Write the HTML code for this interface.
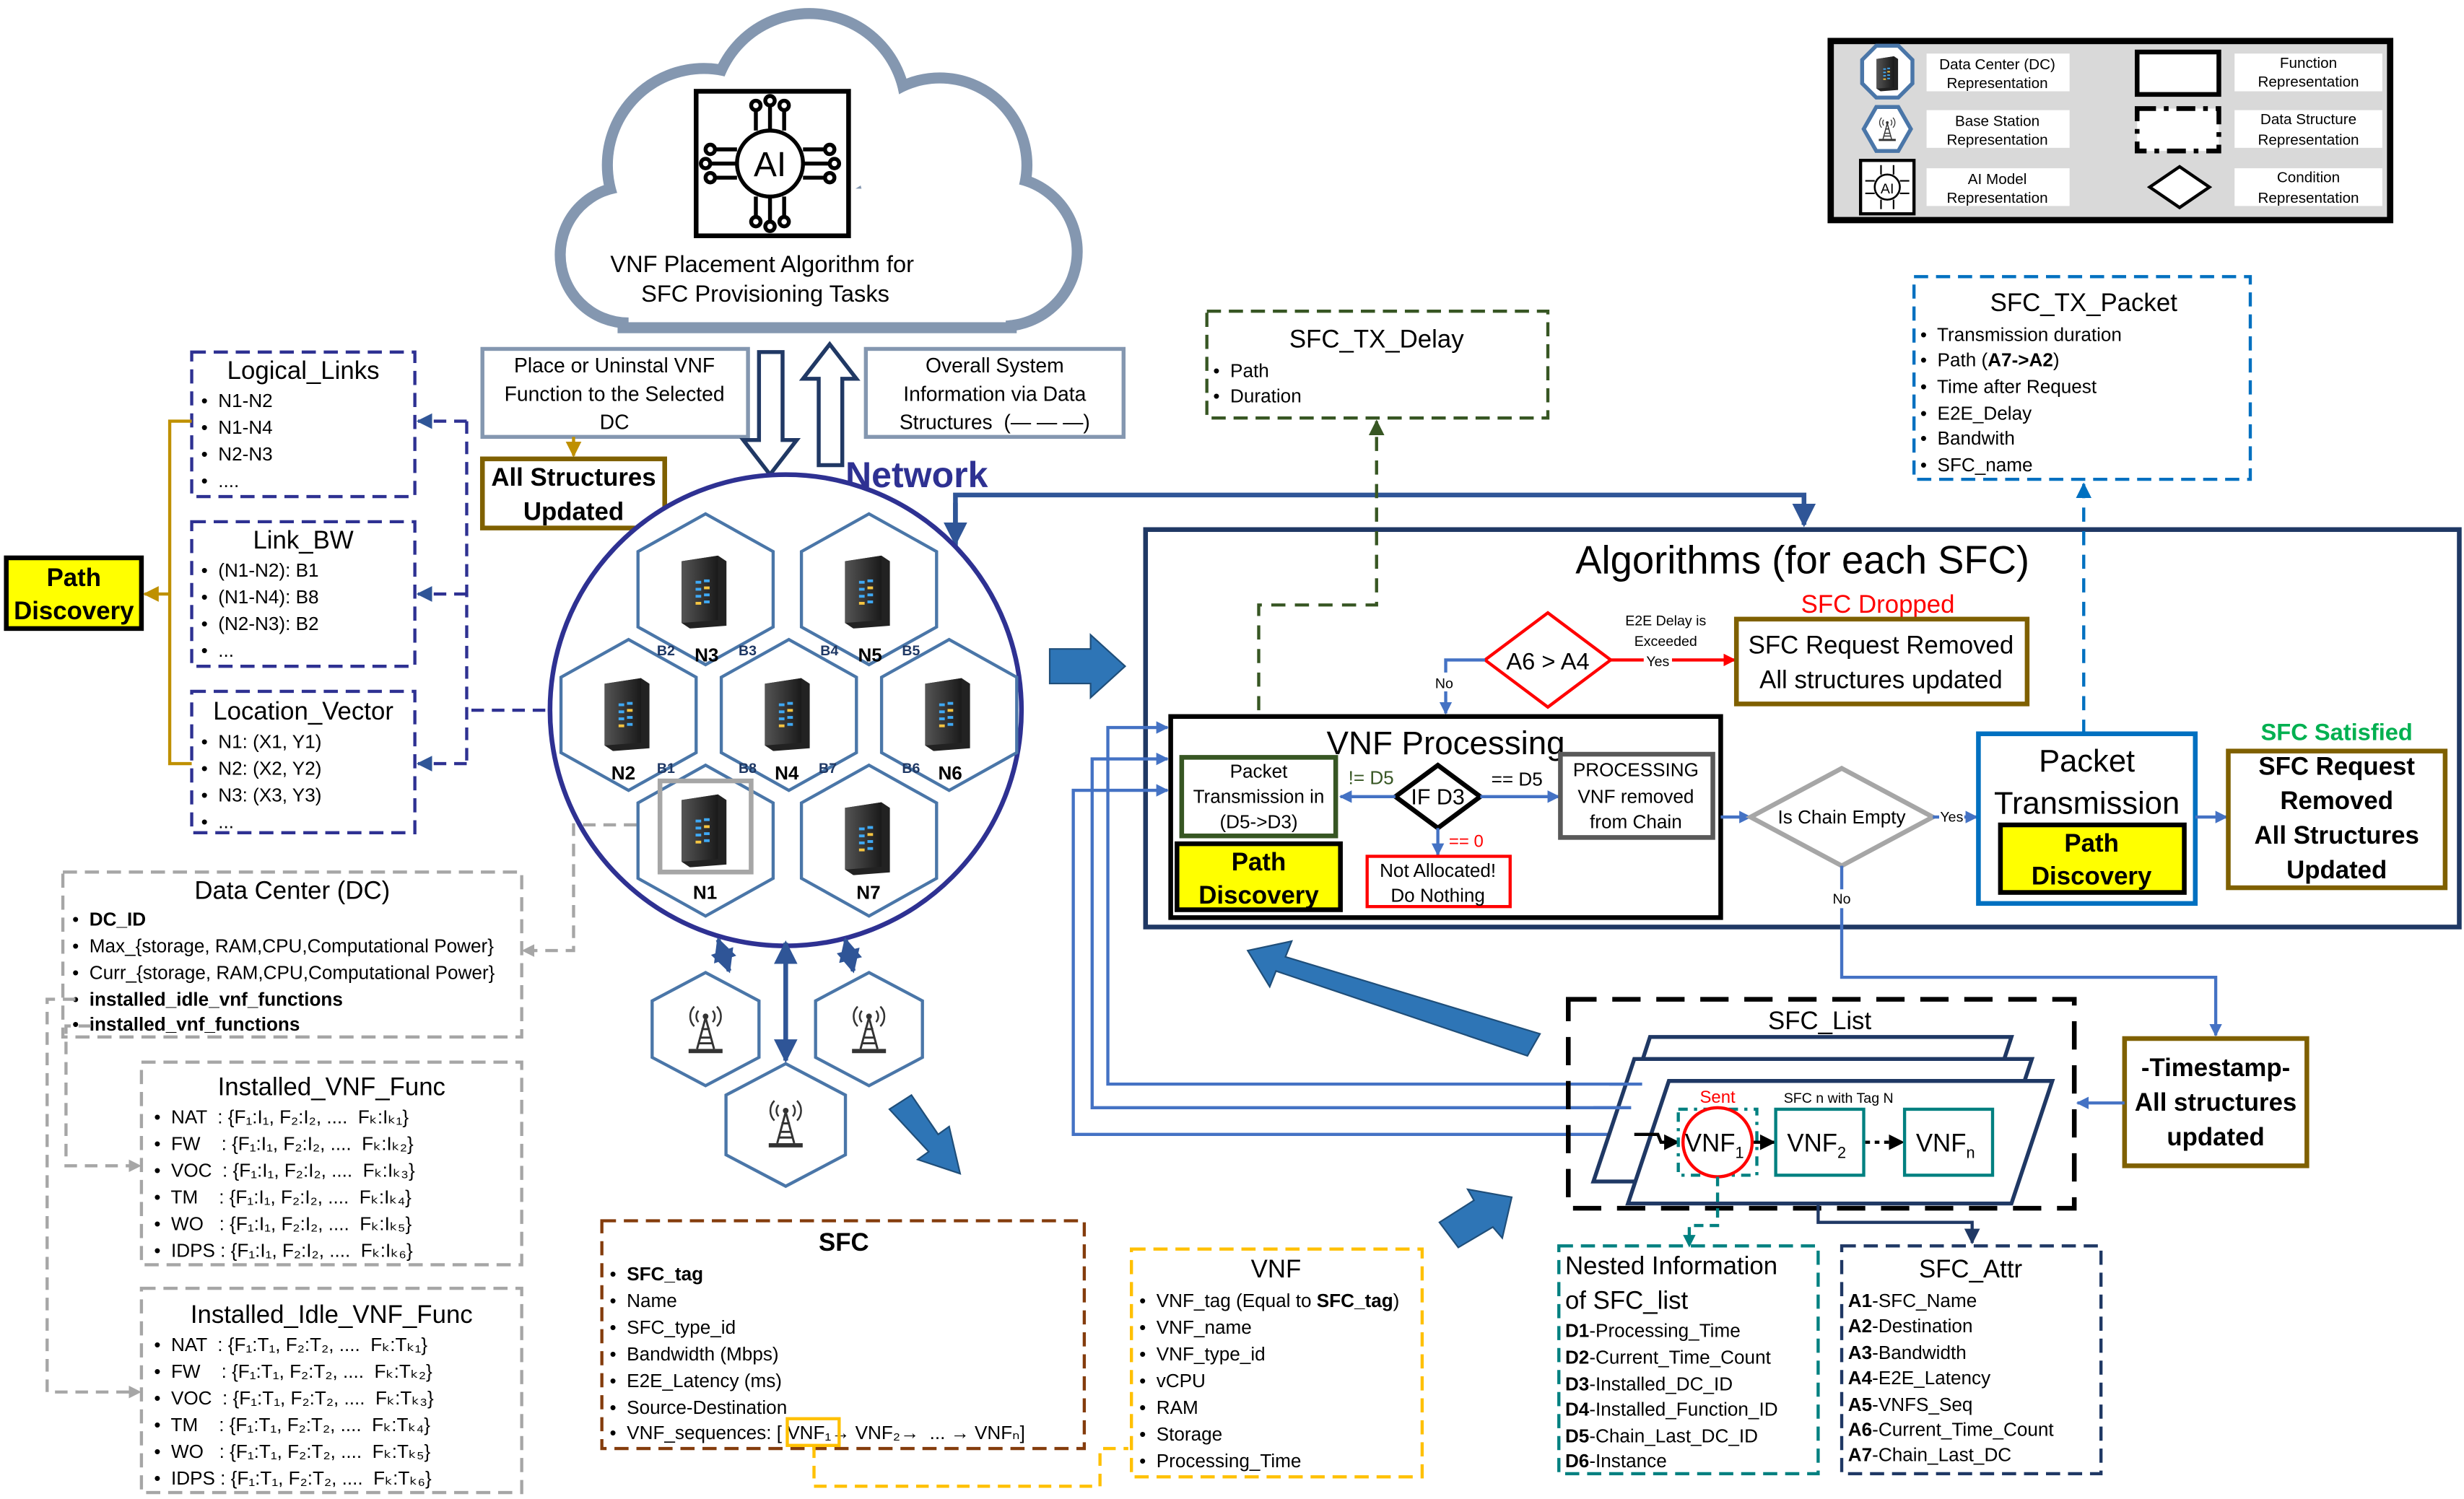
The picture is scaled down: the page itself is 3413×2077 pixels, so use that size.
<!DOCTYPE html>
<html><head><meta charset="utf-8">
<style>
html,body{margin:0;padding:0;background:#fff;}
svg{display:block;}
text{font-family:"Liberation Sans Narrow","Liberation Sans",sans-serif;fill:#000;white-space:pre;}
.b{font-weight:bold;}
</style></head>
<body>
<svg width="3413" height="2077" viewBox="0 0 1568 954" xmlns="http://www.w3.org/2000/svg" xml:space="preserve">
<defs>
<marker id="ab" viewBox="0 0 10 10" refX="9" refY="5" markerWidth="5" markerHeight="5" orient="auto-start-reverse"><path d="M0,0L10,5L0,10z" fill="#2f5597"/></marker>
<marker id="ab2" viewBox="0 0 10 10" refX="9" refY="5" markerWidth="4" markerHeight="4" orient="auto-start-reverse"><path d="M0,0L10,5L0,10z" fill="#4472c4"/></marker>
<marker id="ak" viewBox="0 0 10 10" refX="9" refY="5" markerWidth="5" markerHeight="5" orient="auto"><path d="M0,0L10,5L0,10z" fill="#000"/></marker>
<marker id="ar" viewBox="0 0 10 10" refX="9" refY="5" markerWidth="4" markerHeight="4" orient="auto"><path d="M0,0L10,5L0,10z" fill="#f00"/></marker>
<marker id="agd" viewBox="0 0 10 10" refX="9" refY="5" markerWidth="5" markerHeight="5" orient="auto"><path d="M0,0L10,5L0,10z" fill="#bf9000"/></marker>
<marker id="agr" viewBox="0 0 10 10" refX="9" refY="5" markerWidth="5" markerHeight="5" orient="auto"><path d="M0,0L10,5L0,10z" fill="#375623"/></marker>
<marker id="abl" viewBox="0 0 10 10" refX="9" refY="5" markerWidth="5" markerHeight="5" orient="auto"><path d="M0,0L10,5L0,10z" fill="#0070c0"/></marker>
<marker id="an" viewBox="0 0 10 10" refX="9" refY="5" markerWidth="5" markerHeight="5" orient="auto"><path d="M0,0L10,5L0,10z" fill="#1f3864"/></marker>
<linearGradient id="sg" x1="0" x2="1"><stop offset="0" stop-color="#555"/><stop offset="1" stop-color="#1a1a1a"/></linearGradient>
<symbol id="srv" viewBox="0 0 40 56">
<polygon points="4,8 30,4 36,8 36,54 10,56 4,52" fill="#222"/>
<polygon points="4,8 30,4 30,50 4,52" fill="url(#sg)"/>
<rect x="14" y="22" width="4" height="2" fill="#3fa9f5"/><rect x="20" y="21" width="4" height="2" fill="#3fa9f5"/>
<rect x="14" y="27" width="4" height="2" fill="#3fa9f5"/><rect x="20" y="26" width="4" height="2" fill="#f5c542"/>
<rect x="14" y="32" width="4" height="2" fill="#3fa9f5"/><rect x="20" y="31" width="4" height="2" fill="#3fa9f5"/>
<rect x="14" y="37" width="4" height="2" fill="#f5c542"/><rect x="20" y="36" width="4" height="2" fill="#3fa9f5"/>
</symbol>
<symbol id="bs" viewBox="0 0 40 40">
<path d="M20,12 L14,34 M20,12 L26,34 M16,26 L24,26 M15,30 L25,30 M17,20 L23,20" stroke="#333" stroke-width="1.5" fill="none"/>
<rect x="8" y="34" width="24" height="3" fill="#333"/>
<circle cx="20" cy="11" r="2" fill="#333"/>
<path d="M15,7 A6,6 0 0,0 15,15 M25,7 A6,6 0 0,1 25,15 M12,4 A10,10 0 0,0 12,18 M28,4 A10,10 0 0,1 28,18" stroke="#333" stroke-width="1.3" fill="none"/>
</symbol>
</defs>

<!-- CLOUD -->
<g stroke="#8497b0" stroke-width="14" fill="#8497b0">
<circle cx="400" cy="162" r="40"/><circle cx="448" cy="105" r="58"/><circle cx="515" cy="70" r="58"/>
<circle cx="598" cy="105" r="52"/><circle cx="638" cy="160" r="44"/><rect x="400" y="120" width="240" height="85"/>
</g>
<g fill="#fff">
<circle cx="400" cy="162" r="40"/><circle cx="448" cy="105" r="58"/><circle cx="515" cy="70" r="58"/>
<circle cx="598" cy="105" r="52"/><circle cx="638" cy="160" r="44"/><rect x="400" y="120" width="240" height="85"/>
</g>
<rect x="443" y="58" width="97" height="92" fill="#fff" stroke="#000" stroke-width="3"/>
<g stroke="#000" stroke-width="2.5" fill="none">
<circle cx="490" cy="104" r="21"/>
<path d="M469,95 H455 M469,104 H452 M469,113 H455 M511,95 H525 M511,104 H528 M511,113 H525 M481,83 V70 M490,83 V67 M499,83 V70 M481,125 V138 M490,125 V141 M499,125 V138"/>
<circle cx="452" cy="95" r="3"/><circle cx="449" cy="104" r="3"/><circle cx="452" cy="113" r="3"/>
<circle cx="528" cy="95" r="3"/><circle cx="531" cy="104" r="3"/><circle cx="528" cy="113" r="3"/>
<circle cx="481" cy="67" r="3"/><circle cx="490" cy="64" r="3"/><circle cx="499" cy="67" r="3"/>
<circle cx="481" cy="141" r="3"/><circle cx="490" cy="144" r="3"/><circle cx="499" cy="141" r="3"/>
</g>
<text x="490" y="112" font-size="22" text-anchor="middle">AI</text>
<text x="485" y="173" font-size="15" text-anchor="middle">VNF Placement Algorithm for</text>
<text x="487" y="192" font-size="15" text-anchor="middle">SFC Provisioning Tasks</text>

<!-- LEGEND -->
<rect x="1165" y="26" width="356" height="114" fill="#d9d9d9" stroke="#000" stroke-width="4"/>
<polygon points="1194,29 1208,29 1217,38 1217,53 1208,62 1194,62 1185,53 1185,38" fill="#fff" stroke="#4a76a8" stroke-width="2.5"/>
<use href="#srv" x="1192" y="34" width="18" height="24"/>
<polygon points="1194,68 1208,68 1216,82 1208,96 1194,96 1186,82" fill="#fff" stroke="#4a76a8" stroke-width="2.5"/>
<use href="#bs" x="1192" y="72" width="18" height="20"/>
<rect x="1184" y="102" width="34" height="34" fill="#fff" stroke="#000" stroke-width="2"/>
<circle cx="1201" cy="119" r="8" fill="none" stroke="#000" stroke-width="1.2"/>
<text x="1201" y="123" font-size="9" text-anchor="middle">AI</text>
<g stroke="#000" stroke-width="1" fill="none"><path d="M1193,115 H1187 M1193,123 H1187 M1209,115 H1215 M1209,123 H1215 M1197,111 V105 M1205,111 V105 M1197,127 V133 M1205,127 V133"/></g>
<rect x="1226" y="34" width="91" height="24" fill="#fff"/><rect x="1226" y="70" width="91" height="24" fill="#fff"/><rect x="1226" y="107" width="91" height="24" fill="#fff"/>
<rect x="1422" y="34" width="94" height="24" fill="#fff"/><rect x="1422" y="70" width="94" height="24" fill="#fff"/><rect x="1422" y="107" width="94" height="24" fill="#fff"/>
<g font-size="9.5" text-anchor="middle">
<text x="1271" y="44">Data Center (DC)</text><text x="1271" y="56">Representation</text>
<text x="1271" y="80">Base Station</text><text x="1271" y="92">Representation</text>
<text x="1271" y="117">AI Model</text><text x="1271" y="129">Representation</text>
<text x="1469" y="43">Function</text><text x="1469" y="55">Representation</text>
<text x="1469" y="79">Data Structure</text><text x="1469" y="92">Representation</text>
<text x="1469" y="116">Condition</text><text x="1469" y="129">Representation</text>
</g>
<rect x="1360" y="33" width="52" height="27" fill="#fff" stroke="#000" stroke-width="3"/>
<rect x="1360" y="69" width="52" height="27" fill="#fff" stroke="#000" stroke-width="3" stroke-dasharray="12,5,3,5"/>
<polygon points="1387,106 1406,119 1387,132 1368,119" fill="#fff" stroke="#000" stroke-width="2"/>

<!-- top boxes -->
<rect x="307" y="222" width="169" height="56" fill="#fff" stroke="#8497b0" stroke-width="2.5"/>
<g font-size="13" text-anchor="middle"><text x="391" y="237">Place or Uninstal VNF</text><text x="391" y="255">Function to the Selected</text><text x="391" y="273">DC</text></g>
<rect x="551" y="222" width="164" height="56" fill="#fff" stroke="#8497b0" stroke-width="2.5"/>
<g font-size="13" text-anchor="middle"><text x="633" y="237">Overall System</text><text x="633" y="255">Information via Data</text><text x="633" y="273">Structures  (— — —)</text></g>
<line x1="365" y1="278" x2="365" y2="290" stroke="#bf9000" stroke-width="2" marker-end="url(#agd)"/>
<rect x="307" y="292" width="116" height="44" fill="#fff" stroke="#7f6000" stroke-width="3"/>
<g font-size="16" text-anchor="middle"><text x="365" y="309" class="b">All Structures</text><text x="365" y="331" class="b">Updated</text></g>
<polygon points="483,224 498,224 498,280 507,280 490,302 473,280 483,280" fill="#fff" stroke="#203864" stroke-width="2.5"/>
<polygon points="521,296 536,296 536,241 545,241 528,219 511,241 521,241" fill="#fff" stroke="#203864" stroke-width="2.5"/>
<text x="538" y="310" font-size="23" class="b" style="fill:#2e3192">Network</text>

<path d="M608,348 V315 H1148 V334" fill="none" stroke="#2f5597" stroke-width="3" marker-end="url(#ab)"/>
<line x1="608" y1="320" x2="608" y2="346" stroke="#2f5597" stroke-width="3" marker-end="url(#ab)"/>

<!-- NETWORK CIRCLE -->
<circle cx="500" cy="452" r="150" fill="#fff" stroke="#2e3192" stroke-width="3"/>
<g fill="#fff" stroke="#4a76a8" stroke-width="2">
<polygon points="449,327 492,351 492,399 449,423 406,399 406,351"/>
<polygon points="553,327 596,351 596,399 553,423 510,399 510,351"/>
<polygon points="400,407 443,431 443,479 400,503 357,479 357,431"/>
<polygon points="502,407 545,431 545,479 502,503 459,479 459,431"/>
<polygon points="604,407 647,431 647,479 604,503 561,479 561,431"/>
<polygon points="449,487 492,511 492,559 449,583 406,559 406,511"/>
<polygon points="553,487 596,511 596,559 553,583 510,559 510,511"/>
</g>
<rect x="420" y="497" width="58" height="58" fill="none" stroke="#a6a6a6" stroke-width="3"/>
<use href="#srv" x="430" y="350" width="36" height="50"/>
<use href="#srv" x="534" y="350" width="36" height="50"/>
<use href="#srv" x="381" y="428" width="36" height="50"/>
<use href="#srv" x="483" y="428" width="36" height="50"/>
<use href="#srv" x="585" y="428" width="36" height="50"/>
<use href="#srv" x="430" y="502" width="36" height="50"/>
<use href="#srv" x="534" y="507" width="36" height="50"/>
<g font-size="12">
<text x="442" y="421" class="b">N3</text><text x="546" y="421" class="b">N5</text>
<text x="389" y="496" class="b">N2</text><text x="493" y="496" class="b">N4</text><text x="597" y="496" class="b">N6</text>
<text x="441" y="572" class="b">N1</text><text x="545" y="572" class="b">N7</text>
</g>
<g font-size="9">
<text x="418" y="417" class="b" style="fill:#1f3864">B2</text><text x="470" y="417" class="b" style="fill:#1f3864">B3</text>
<text x="522" y="417" class="b" style="fill:#1f3864">B4</text><text x="574" y="417" class="b" style="fill:#1f3864">B5</text>
<text x="418" y="492" class="b" style="fill:#1f3864">B1</text><text x="470" y="492" class="b" style="fill:#1f3864">B8</text>
<text x="521" y="492" class="b" style="fill:#1f3864">B7</text><text x="574" y="492" class="b" style="fill:#1f3864">B6</text>
</g>
<g fill="#fff" stroke="#4a76a8" stroke-width="2">
<polygon points="449,619 483,637 483,673 449,691 415,673 415,637"/>
<polygon points="553,619 587,637 587,673 553,691 519,673 519,637"/>
<polygon points="500,677 538,697 538,735 500,755 462,735 462,697"/>
</g>
<use href="#bs" x="431" y="637" width="36" height="36"/>
<use href="#bs" x="535" y="637" width="36" height="36"/>
<use href="#bs" x="482" y="696" width="36" height="38"/>
<g stroke="#2f5597" stroke-width="3" fill="none">
<line x1="457" y1="598" x2="464" y2="618" marker-start="url(#ab)" marker-end="url(#ab)"/>
<line x1="500" y1="600" x2="500" y2="675" marker-start="url(#ab)" marker-end="url(#ab)"/>
<line x1="538" y1="598" x2="543" y2="618" marker-start="url(#ab)" marker-end="url(#ab)"/>
</g>

<!-- LEFT LISTS -->
<g fill="#fff" stroke="#2e3192" stroke-width="2" stroke-dasharray="9,5">
<rect x="122" y="224" width="142" height="92"/>
<rect x="122" y="332" width="142" height="92"/>
<rect x="122" y="440" width="142" height="90"/>
</g>
<g font-size="16" text-anchor="middle">
<text x="193" y="241">Logical_Links</text><text x="193" y="349">Link_BW</text><text x="193" y="458">Location_Vector</text>
</g>
<g font-size="12">
<text x="128" y="259">•  N1-N2</text><text x="128" y="276">•  N1-N4</text><text x="128" y="293">•  N2-N3</text><text x="128" y="310">•  ....</text>
<text x="128" y="367">•  (N1-N2): B1</text><text x="128" y="384">•  (N1-N4): B8</text><text x="128" y="401">•  (N2-N3): B2</text><text x="128" y="418">•  ...</text>
<text x="128" y="476">•  N1: (X1, Y1)</text><text x="128" y="493">•  N2: (X2, Y2)</text><text x="128" y="510">•  N3: (X3, Y3)</text><text x="128" y="527">•  ...</text>
</g>
<path d="M122,268 H108 V486 H122" fill="none" stroke="#bf9000" stroke-width="2"/>
<line x1="108" y1="378" x2="92" y2="378" stroke="#bf9000" stroke-width="2" marker-end="url(#agd)"/>
<rect x="4" y="355" width="86" height="45" fill="#ffff00" stroke="#000" stroke-width="3"/>
<text x="47" y="373" font-size="16" text-anchor="middle" class="b">Path</text>
<text x="47" y="394" font-size="16" text-anchor="middle" class="b">Discovery</text>
<g stroke="#2e3192" stroke-width="2" stroke-dasharray="8,5" fill="none">
<path d="M297,268 V486"/><path d="M300,452 H348"/>
<line x1="297" y1="268" x2="266" y2="268" marker-end="url(#ab)"/>
<line x1="297" y1="378" x2="266" y2="378" marker-end="url(#ab)"/>
<line x1="297" y1="486" x2="266" y2="486" marker-end="url(#ab)"/>
</g>

<!-- Data Center -->
<rect x="40" y="555" width="292" height="105" fill="#fff" stroke="#a6a6a6" stroke-width="2" stroke-dasharray="9,5"/>
<text x="186" y="572" font-size="16" text-anchor="middle">Data Center (DC)</text>
<g font-size="12">
<text x="46" y="589">•  <tspan class="b">DC_ID</tspan></text>
<text x="46" y="606">•  Max_{storage, RAM,CPU,Computational Power}</text>
<text x="46" y="623">•  Curr_{storage, RAM,CPU,Computational Power}</text>
<text x="46" y="640">•  <tspan class="b">installed_idle_vnf_functions</tspan></text>
<text x="46" y="656">•  <tspan class="b">installed_vnf_functions</tspan></text>
</g>
<g stroke="#a6a6a6" stroke-width="2" stroke-dasharray="8,5" fill="none">
<path d="M405,525 H365 V605 H336"/>
<path d="M48,636 H30 V886 H88"/>
<path d="M58,653 H42 V742 H88"/>
</g>
<polygon points="332,605 340,601 340,609" fill="#a6a6a6"/>
<polygon points="90,742 82,738 82,746" fill="#a6a6a6"/>
<polygon points="90,886 82,882 82,890" fill="#a6a6a6"/>

<rect x="90" y="676" width="242" height="129" fill="#fff" stroke="#a6a6a6" stroke-width="2" stroke-dasharray="9,5"/>
<text x="211" y="697" font-size="16" text-anchor="middle">Installed_VNF_Func</text>
<g font-size="12">
<text x="98" y="715">•  NAT  : {F₁:I₁, F₂:I₂, ....  Fₖ:Iₖ₁}</text>
<text x="98" y="732">•  FW    : {F₁:I₁, F₂:I₂, ....  Fₖ:Iₖ₂}</text>
<text x="98" y="749">•  VOC  : {F₁:I₁, F₂:I₂, ....  Fₖ:Iₖ₃}</text>
<text x="98" y="766">•  TM    : {F₁:I₁, F₂:I₂, ....  Fₖ:Iₖ₄}</text>
<text x="98" y="783">•  WO   : {F₁:I₁, F₂:I₂, ....  Fₖ:Iₖ₅}</text>
<text x="98" y="800">•  IDPS : {F₁:I₁, F₂:I₂, ....  Fₖ:Iₖ₆}</text>
</g>
<rect x="90" y="820" width="242" height="130" fill="#fff" stroke="#a6a6a6" stroke-width="2" stroke-dasharray="9,5"/>
<text x="211" y="842" font-size="16" text-anchor="middle">Installed_Idle_VNF_Func</text>
<g font-size="12">
<text x="98" y="860">•  NAT  : {F₁:T₁, F₂:T₂, ....  Fₖ:Tₖ₁}</text>
<text x="98" y="877">•  FW    : {F₁:T₁, F₂:T₂, ....  Fₖ:Tₖ₂}</text>
<text x="98" y="894">•  VOC  : {F₁:T₁, F₂:T₂, ....  Fₖ:Tₖ₃}</text>
<text x="98" y="911">•  TM    : {F₁:T₁, F₂:T₂, ....  Fₖ:Tₖ₄}</text>
<text x="98" y="928">•  WO   : {F₁:T₁, F₂:T₂, ....  Fₖ:Tₖ₅}</text>
<text x="98" y="945">•  IDPS : {F₁:T₁, F₂:T₂, ....  Fₖ:Tₖ₆}</text>
</g>

<!-- SFC & VNF -->
<rect x="383" y="777" width="307" height="145" fill="#fff" stroke="#843c0c" stroke-width="2" stroke-dasharray="9,5"/>
<text x="537" y="796" font-size="16" text-anchor="middle" class="b">SFC</text>
<g font-size="12">
<text x="388" y="815">•  <tspan class="b">SFC_tag</tspan></text>
<text x="388" y="832">•  Name</text>
<text x="388" y="849">•  SFC_type_id</text>
<text x="388" y="866">•  Bandwidth (Mbps)</text>
<text x="388" y="883">•  E2E_Latency (ms)</text>
<text x="388" y="900">•  Source-Destination</text>
<text x="388" y="916">•  VNF_sequences: [ VNF₁→ VNF₂→  ... → VNFₙ]</text>
</g>
<rect x="501" y="903" width="33" height="17" fill="none" stroke="#ffc000" stroke-width="2"/>
<path d="M518,920 V946 H700 V922 H718" fill="none" stroke="#ffc000" stroke-width="2" stroke-dasharray="8,5"/>
<rect x="720" y="795" width="185" height="145" fill="#fff" stroke="#ffc000" stroke-width="2" stroke-dasharray="9,5"/>
<text x="812" y="813" font-size="16" text-anchor="middle">VNF</text>
<g font-size="12">
<text x="725" y="832">•  VNF_tag (Equal to <tspan class="b">SFC_tag</tspan>)</text>
<text x="725" y="849">•  VNF_name</text>
<text x="725" y="866">•  VNF_type_id</text>
<text x="725" y="883">•  vCPU</text>
<text x="725" y="900">•  RAM</text>
<text x="725" y="917">•  Storage</text>
<text x="725" y="934">•  Processing_Time</text>
</g>

<rect x="992" y="793" width="165" height="145" fill="#fff" stroke="#008080" stroke-width="2" stroke-dasharray="9,5"/>
<text x="996" y="811" font-size="16">Nested Information</text>
<text x="996" y="833" font-size="16">of SFC_list</text>
<g font-size="12">
<text x="996" y="851"><tspan class="b">D1</tspan>-Processing_Time</text>
<text x="996" y="868"><tspan class="b">D2</tspan>-Current_Time_Count</text>
<text x="996" y="885"><tspan class="b">D3</tspan>-Installed_DC_ID</text>
<text x="996" y="901"><tspan class="b">D4</tspan>-Installed_Function_ID</text>
<text x="996" y="918"><tspan class="b">D5</tspan>-Chain_Last_DC_ID</text>
<text x="996" y="934"><tspan class="b">D6</tspan>-Instance</text>
</g>
<rect x="1172" y="793" width="165" height="145" fill="#fff" stroke="#1f3864" stroke-width="2" stroke-dasharray="9,5"/>
<text x="1254" y="813" font-size="16" text-anchor="middle">SFC_Attr</text>
<g font-size="12">
<text x="1176" y="832"><tspan class="b">A1</tspan>-SFC_Name</text>
<text x="1176" y="848"><tspan class="b">A2</tspan>-Destination</text>
<text x="1176" y="865"><tspan class="b">A3</tspan>-Bandwidth</text>
<text x="1176" y="881"><tspan class="b">A4</tspan>-E2E_Latency</text>
<text x="1176" y="898"><tspan class="b">A5</tspan>-VNFS_Seq</text>
<text x="1176" y="914"><tspan class="b">A6</tspan>-Current_Time_Count</text>
<text x="1176" y="930"><tspan class="b">A7</tspan>-Chain_Last_DC</text>
</g>

<!-- SFC_TX -->
<rect x="768" y="198" width="217" height="68" fill="#fff" stroke="#375623" stroke-width="2" stroke-dasharray="9,5"/>
<text x="876" y="221" font-size="16" text-anchor="middle">SFC_TX_Delay</text>
<g font-size="12"><text x="772" y="240">•  Path</text><text x="772" y="256">•  Duration</text></g>
<rect x="1218" y="176" width="214" height="129" fill="#fff" stroke="#0070c0" stroke-width="2" stroke-dasharray="9,5"/>
<text x="1326" y="198" font-size="16" text-anchor="middle">SFC_TX_Packet</text>
<g font-size="12">
<text x="1222" y="217">•  Transmission duration</text>
<text x="1222" y="233">•  Path (<tspan class="b">A7-&gt;A2</tspan>)</text>
<text x="1222" y="250">•  Time after Request</text>
<text x="1222" y="267">•  E2E_Delay</text>
<text x="1222" y="283">•  Bandwith</text>
<text x="1222" y="300">•  SFC_name</text>
</g>

<!-- ALGORITHMS -->
<rect x="729" y="337" width="836" height="253" fill="#fff" stroke="#1f3864" stroke-width="3"/>
<text x="1147" y="365" font-size="25" text-anchor="middle">Algorithms (for each SFC)</text>
<path d="M801,482 V385 H876 V268" fill="none" stroke="#375623" stroke-width="2" stroke-dasharray="9,6" marker-end="url(#agr)"/>
<path d="M1326,467 V308" fill="none" stroke="#0070c0" stroke-width="2" stroke-dasharray="9,6" marker-end="url(#abl)"/>
<polygon points="985,390 1025,420 985,450 945,420" fill="#fff" stroke="#f00" stroke-width="2"/>
<text x="985" y="426" font-size="15" text-anchor="middle">A6 &gt; A4</text>
<path d="M945,420 H920 V454" fill="none" stroke="#4472c4" stroke-width="2" marker-end="url(#ab2)"/>
<rect x="912" y="428" width="16" height="12" fill="#fff"/>
<text x="919" y="438" font-size="9" text-anchor="middle">No</text>
<line x1="1025" y1="420" x2="1104" y2="420" stroke="#f00" stroke-width="2" marker-end="url(#ar)"/>
<text x="1060" y="398" font-size="9" text-anchor="middle">E2E Delay is</text>
<text x="1060" y="411" font-size="9" text-anchor="middle">Exceeded</text>
<rect x="1046" y="416" width="18" height="9" fill="#fff"/>
<text x="1055" y="424" font-size="9" text-anchor="middle">Yes</text>
<text x="1195" y="390" font-size="16" text-anchor="middle" style="fill:#f00">SFC Dropped</text>
<rect x="1105" y="394" width="185" height="54" fill="#fff" stroke="#7f6000" stroke-width="3"/>
<text x="1197" y="416" font-size="16" text-anchor="middle">SFC Request Removed</text>
<text x="1197" y="438" font-size="16" text-anchor="middle">All structures updated</text>

<rect x="745" y="456" width="350" height="128" fill="#fff" stroke="#000" stroke-width="3"/>
<text x="920" y="480" font-size="21" text-anchor="middle">VNF Processing</text>
<rect x="752" y="482" width="98" height="50" fill="#fff" stroke="#375623" stroke-width="3"/>
<g font-size="12" text-anchor="middle"><text x="801" y="495">Packet</text><text x="801" y="511">Transmission in</text><text x="801" y="527">(D5-&gt;D3)</text></g>
<rect x="749" y="537" width="104" height="42" fill="#ffff00" stroke="#000" stroke-width="3"/>
<text x="801" y="554" font-size="16" text-anchor="middle" class="b">Path</text>
<text x="801" y="575" font-size="16" text-anchor="middle" class="b">Discovery</text>
<polygon points="915,487 942,507 915,527 888,507" fill="#fff" stroke="#000" stroke-width="3"/>
<text x="915" y="512" font-size="14" text-anchor="middle">IF D3</text>
<line x1="888" y1="507" x2="853" y2="507" stroke="#4472c4" stroke-width="2" marker-end="url(#ab2)"/>
<line x1="942" y1="507" x2="992" y2="507" stroke="#4472c4" stroke-width="2" marker-end="url(#ab2)"/>
<line x1="915" y1="527" x2="915" y2="544" stroke="#4472c4" stroke-width="2" marker-end="url(#ab2)"/>
<text x="858" y="499" font-size="12" style="fill:#375623">!= D5</text>
<text x="949" y="500" font-size="12">== D5</text>
<text x="922" y="539" font-size="11" style="fill:#f00">== 0</text>
<rect x="993" y="480" width="97" height="53" fill="#fff" stroke="#595959" stroke-width="3"/>
<g font-size="12" text-anchor="middle"><text x="1041" y="494">PROCESSING</text><text x="1041" y="511">VNF removed</text><text x="1041" y="527">from Chain</text></g>
<rect x="870" y="545" width="91" height="32" fill="#fff" stroke="#f00" stroke-width="2"/>
<text x="915" y="558" font-size="12" text-anchor="middle">Not Allocated!</text>
<text x="915" y="574" font-size="12" text-anchor="middle">Do Nothing</text>
<line x1="1095" y1="520" x2="1114" y2="520" stroke="#4472c4" stroke-width="2" marker-end="url(#ab2)"/>
<polygon points="1172,489 1230,520 1172,551 1114,520" fill="#fff" stroke="#a6a6a6" stroke-width="3"/>
<text x="1172" y="524" font-size="12" text-anchor="middle">Is Chain Empty</text>
<line x1="1230" y1="520" x2="1258" y2="520" stroke="#4472c4" stroke-width="2" marker-end="url(#ab2)"/>
<rect x="1234" y="515" width="16" height="10" fill="#fff"/>
<text x="1242" y="523" font-size="9" text-anchor="middle">Yes</text>
<path d="M1172,551 V622 H1410 V659" fill="none" stroke="#4472c4" stroke-width="2" marker-end="url(#ab2)"/>
<rect x="1164" y="566" width="16" height="12" fill="#fff"/>
<text x="1172" y="575" font-size="9" text-anchor="middle">No</text>
<rect x="1259" y="467" width="138" height="108" fill="#fff" stroke="#0070c0" stroke-width="3"/>
<text x="1328" y="491" font-size="20" text-anchor="middle">Packet</text>
<text x="1328" y="518" font-size="20" text-anchor="middle">Transmission</text>
<rect x="1273" y="525" width="117" height="43" fill="#ffff00" stroke="#000" stroke-width="3"/>
<text x="1331" y="542" font-size="16" text-anchor="middle" class="b">Path</text>
<text x="1331" y="563" font-size="16" text-anchor="middle" class="b">Discovery</text>
<line x1="1397" y1="520" x2="1417" y2="520" stroke="#4472c4" stroke-width="2" marker-end="url(#ab2)"/>
<text x="1487" y="471" font-size="15" text-anchor="middle" class="b" style="fill:#00b050">SFC Satisfied</text>
<rect x="1418" y="478" width="138" height="87" fill="#fff" stroke="#7f6000" stroke-width="3"/>
<g font-size="16" text-anchor="middle"><text x="1487" y="493" class="b">SFC Request</text><text x="1487" y="515" class="b">Removed</text><text x="1487" y="537" class="b">All Structures</text><text x="1487" y="559" class="b">Updated</text></g>

<g stroke="#4472c4" stroke-width="2" fill="none">
<path d="M1040,690 H705 V463 H743" marker-end="url(#ab2)"/>
<path d="M1030,705 H695 V483 H743" marker-end="url(#ab2)"/>
<path d="M1050,722 H683 V503 H743" marker-end="url(#ab2)"/>
</g>

<!-- SFC_List -->
<rect x="998" y="636" width="322" height="133" fill="none" stroke="#000" stroke-width="3" stroke-dasharray="18,10"/>
<text x="1158" y="655" font-size="16" text-anchor="middle">SFC_List</text>
<g fill="#fff" stroke="#1f3864" stroke-width="2.5">
<polygon points="1050,660 1280,660 1254,740 1024,740"/>
<polygon points="1040,674 1293,674 1267,752 1014,752"/>
<polygon points="1062,688 1306,688 1280,766 1036,766"/>
</g>
<line x1="1024" y1="690" x2="1045" y2="690" stroke="#4472c4" stroke-width="2"/>
<line x1="1014" y1="705" x2="1038" y2="705" stroke="#4472c4" stroke-width="2"/>
<path d="M1040,722 H1055 L1057,727 H1068" fill="none" stroke="#000" stroke-width="2" marker-end="url(#ak)"/>
<text x="1093" y="702" font-size="11" text-anchor="middle" style="fill:#f00">Sent</text>
<text x="1170" y="702" font-size="9" text-anchor="middle">SFC n with Tag N</text>
<rect x="1068" y="706" width="50" height="42" fill="none" stroke="#008080" stroke-width="2" stroke-dasharray="6,4,2,4"/>
<circle cx="1093" cy="727" r="22" fill="#fff" stroke="#f00" stroke-width="2"/>
<text x="1091" y="733" font-size="16" text-anchor="middle">VNF<tspan font-size="10" dy="4">1</tspan></text>
<line x1="1116" y1="727" x2="1129" y2="727" stroke="#000" stroke-width="2" marker-end="url(#ak)"/>
<rect x="1130" y="706" width="56" height="42" fill="#fff" stroke="#008080" stroke-width="2"/>
<text x="1156" y="733" font-size="16" text-anchor="middle">VNF<tspan font-size="10" dy="4">2</tspan></text>
<line x1="1187" y1="727" x2="1211" y2="727" stroke="#000" stroke-width="2" stroke-dasharray="3,3" marker-end="url(#ak)"/>
<rect x="1212" y="706" width="56" height="42" fill="#fff" stroke="#008080" stroke-width="2"/>
<text x="1238" y="733" font-size="16" text-anchor="middle">VNF<tspan font-size="10" dy="4">n</tspan></text>
<path d="M1093,749 V780 H1075 V792" fill="none" stroke="#008080" stroke-width="2" stroke-dasharray="6,4"/>
<polygon points="1075,794 1071,786 1079,786" fill="#008080"/>
<path d="M1157,766 V778 H1255 V791" fill="none" stroke="#1f3864" stroke-width="2" marker-end="url(#an)"/>
<rect x="1352" y="661" width="116" height="81" fill="#fff" stroke="#7f6000" stroke-width="3"/>
<g font-size="16" text-anchor="middle"><text x="1410" y="685" class="b">-Timestamp-</text><text x="1410" y="707" class="b">All structures</text><text x="1410" y="729" class="b">updated</text></g>
<line x1="1352" y1="702" x2="1322" y2="702" stroke="#4472c4" stroke-width="2" marker-end="url(#ab2)"/>

<!-- block arrows -->
<g fill="#2e75b6" stroke="#1f4e79" stroke-width="1">
<polygon points="668,413 694,413 694,404 716,424 694,444 694,435 668,435"/>
<polygon points="566,706 580,697 597,722 604,717 611,747 584,738 591,733"/>
<polygon points="980,658 972,672 812,618 808,628 794,605 822,599 818,609"/>
<polygon points="916,778 938,764 934,757 962,762 956,788 950,781 928,794"/>
</g>
</svg>
</body></html>
